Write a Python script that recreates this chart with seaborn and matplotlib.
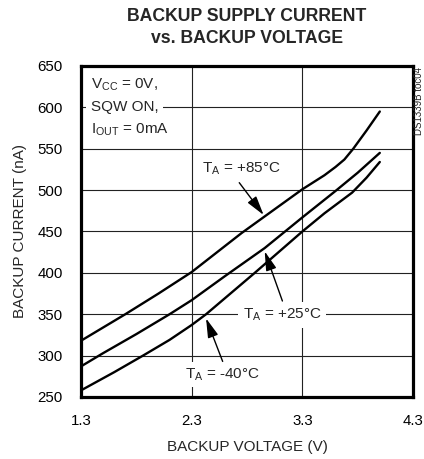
import matplotlib
matplotlib.use("Agg")
import matplotlib.pyplot as plt
import seaborn as sns

sns.set_style("white")
plt.rcParams['font.family'] = ['Liberation Sans', 'DejaVu Sans']
plt.rcParams['mathtext.fontset'] = 'custom'
plt.rcParams['mathtext.rm'] = 'Liberation Sans'
plt.rcParams['mathtext.it'] = 'Liberation Sans'

# =========================
# data
# =========================
v_85 = [1.3, 1.7, 2.0, 2.3, 2.75, 3.3, 3.5, 3.6, 3.68, 3.76, 3.88, 4.0]
i_85 = [318, 350, 375, 401, 448, 501, 518, 528, 537, 550, 572, 595]

v_25 = [1.3, 1.5, 1.8, 2.1, 2.3, 2.6, 2.96, 3.3, 3.6, 3.8, 4.0]
i_25 = [287, 303, 326, 350, 367, 396, 430, 467, 499, 521, 545]

v_m40 = [1.3, 1.6, 1.86, 2.1, 2.3, 2.43, 2.87, 3.3, 3.5, 3.65, 3.75, 3.88, 4.0]
i_m40 = [258, 280, 300, 319, 337, 350, 400, 450, 472, 487, 497, 515, 534]

x_ticks = [1.3, 2.3, 3.3, 4.3]
y_ticks = [250, 300, 350, 400, 450, 500, 550, 600, 650]

fig = plt.figure(figsize=(4.24, 4.59), dpi=100)
ax = fig.add_axes([81 / 424, 62 / 459, 332 / 424, 331 / 459])

for v, i in [(v_85, i_85), (v_25, i_25), (v_m40, i_m40)]:
    sns.lineplot(x=v, y=i, ax=ax, color='black', linewidth=1.7, estimator=None, zorder=3)

ax.set_xlim(1.3, 4.3)
ax.set_ylim(250, 650)
ax.set_xticks(x_ticks)
ax.set_xticklabels([f"{t:.1f}" for t in x_ticks])
ax.set_yticks(y_ticks)
ax.grid(True, color='#222222', linewidth=0.8, zorder=0)
ax.set_axisbelow(True)
for s in ax.spines.values():
    s.set_linewidth(2.3)
    s.set_color('black')
ax.tick_params(axis='both', length=0, labelsize=10.8, colors='black')
ax.tick_params(axis='y', pad=13)
ax.tick_params(axis='x', pad=12)

ax.set_xlabel("BACKUP VOLTAGE (V)", fontsize=11)
ax.set_ylabel("BACKUP CURRENT (nA)", fontsize=11)
ax.xaxis.set_label_coords(0.5, -0.13)
ax.yaxis.set_label_coords(-0.163, 0.5)

fig.text(246.7 / 424, 1 - 27.5 / 459, "BACKUP SUPPLY CURRENT\nvs. BACKUP VOLTAGE",
         ha='center', va='center', fontsize=12.7, fontweight='bold', linespacing=1.45)
fig.text(419 / 424, 1 - 67 / 459, "DS1339B toc04", rotation=90, ha='center', va='top',
         fontsize=7)

# conditions box
box = dict(boxstyle='square,pad=0.3', fc='white', ec='none')
ax.text(1.388, 627, r"V$_{\rm CC}$ = 0V,", ha='left', va='center', fontsize=11)
ax.text(1.388, 601, "SQW ON,", ha='left', va='center', fontsize=11, bbox=box)
ax.text(1.388, 573, r"I$_{\rm OUT}$ = 0mA", ha='left', va='center', fontsize=11)

# curve labels
arrow = dict(arrowstyle='-|>,head_length=0.9,head_width=0.25', color='black',
             lw=1.0, mutation_scale=13, shrinkA=0, shrinkB=0)
ax.annotate("", xy=(2.95, 470), xytext=(2.73, 509), arrowprops=arrow, zorder=4)
ax.text(2.752, 526, r"T$_{\rm A}$ = +85°C", ha='center', va='center', fontsize=11, bbox=box)

ax.annotate("", xy=(2.96, 426), xytext=(3.12, 366), arrowprops=arrow, zorder=4)
ax.text(3.116, 349, r"T$_{\rm A}$ = +25°C", ha='center', va='center', fontsize=11, bbox=box)

ax.annotate("", xy=(2.43, 345), xytext=(2.58, 293), arrowprops=arrow, zorder=4)
ax.text(2.578, 277, r"T$_{\rm A}$ = -40°C", ha='center', va='center', fontsize=11, bbox=box)

fig.savefig("out.png", dpi=100)
